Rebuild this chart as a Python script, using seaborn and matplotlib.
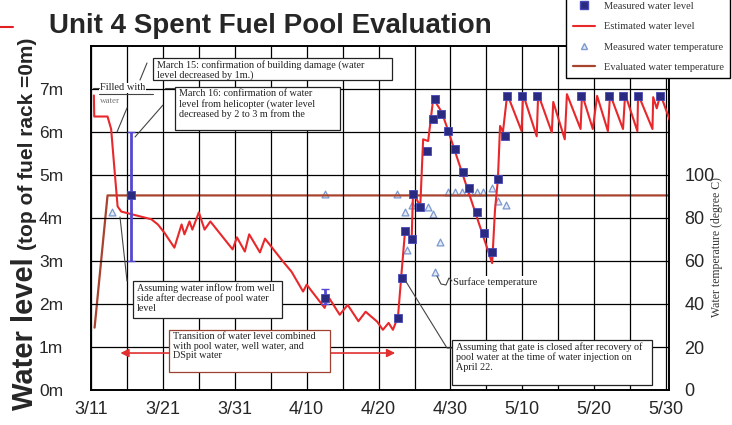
import seaborn as sns
import matplotlib.pyplot as plt
from matplotlib.lines import Line2D
from matplotlib.patches import Rectangle

W, H = 732, 425

# x positions are days counted from 3/11
tick_days = [0, 10, 20, 30, 40, 50, 60, 70, 80]
tick_labels = ["3/11", "3/21", "3/31", "4/10", "4/20", "4/30", "5/10", "5/20", "5/30"]
level_ticks = [0, 1, 2, 3, 4, 5, 6, 7]
level_labels = ["0m", "1m", "2m", "3m", "4m", "5m", "6m", "7m"]
temp_ticks = [0, 20, 40, 60, 80, 100]

# estimated water level (m)
est_days = [0.4, 0.45, 2.3, 2.8, 3.3, 3.7, 4.2, 8.4, 9.3, 10.2, 11.6, 12.6, 13.0, 13.7,
            14.1, 15.0, 15.8, 16.6, 19.7, 20.3, 21.4, 22.0, 23.5, 24.2, 26.7, 27.9,
            29.5, 30.0, 32.5, 33.0, 34.6, 35.7, 37.2, 38.2, 39.8, 40.6, 41.4, 42.0,
            42.7, 43.2, 43.7, 44.6, 44.8, 45.8, 46.2, 46.9, 47.6, 48.1, 48.8, 49.7,
            55.8, 56.2, 56.6, 56.9, 57.3, 57.9, 59.9, 60.1, 62.0, 62.2, 64.1, 64.3,
            65.9, 66.2, 68.1, 68.3, 69.8, 70.4, 71.9, 72.2, 74.0, 74.3, 76.0, 76.1,
            78.1, 78.2, 78.7, 79.2, 80.8]
est_level = [6.85, 6.36, 6.36, 6.07, 5.06, 4.27, 4.15, 3.97, 3.85, 3.66, 3.31, 3.85,
             3.62, 3.92, 3.73, 4.13, 3.73, 3.92, 3.27, 3.55, 3.22, 3.62, 3.20, 3.52,
             2.99, 2.75, 2.29, 2.45, 1.91, 2.17, 1.75, 1.98, 1.60, 1.82, 1.59, 1.40,
             1.56, 1.40, 1.70, 2.73, 3.73, 3.50, 4.60, 4.27, 5.83, 5.79, 6.77, 6.65,
             6.46, 6.02, 2.95, 4.20, 4.90, 6.14, 6.00, 6.88, 6.02, 6.88, 5.90, 6.88,
             5.99, 6.70, 5.83, 6.88, 6.07, 6.88, 6.07, 6.84, 6.02, 6.88, 6.07, 6.88,
             6.02, 6.88, 6.07, 6.81, 6.55, 6.88, 6.14]

# measured water level (m)
meas_days = [5.5, 32.5, 42.7, 43.3, 43.7, 44.6, 44.8, 45.8, 46.7, 47.6, 47.8, 48.7,
             49.7, 50.6, 51.7, 52.6, 53.7, 54.7, 55.8, 56.6, 57.6, 57.9, 60.0, 62.1,
             68.1, 72.0, 74.0, 76.1, 79.2]
meas_level = [4.53, 2.15, 1.68, 2.60, 3.70, 3.50, 4.55, 4.25, 5.55, 6.30, 6.77, 6.42,
              6.02, 5.60, 5.06, 4.69, 4.13, 3.66, 3.20, 4.90, 5.90, 6.84, 6.84, 6.84,
              6.84, 6.84, 6.84, 6.84, 6.84]
range_days = [5.5, 32.5]
range_mid = [4.5, 2.15]
range_low = [3.0, 2.0]
range_high = [6.0, 2.35]

# water temperature (degree C)
temp_days = [2.9, 32.5, 42.5, 43.7, 43.9, 44.6, 46.9, 47.6, 47.8, 48.5, 49.7, 50.6,
             51.6, 52.7, 53.7, 54.5, 55.8, 56.6, 57.7]
temp_vals = [83, 91, 91, 83, 65, 86, 85, 82, 55, 69, 92, 92, 92, 92, 92, 92, 94, 88, 86]
eval_days = [0.5, 2.3, 80.4]
eval_temp = [29, 90.5, 90.5]

RED = "#e8282b"
BROWN = "#a8432e"
NAVY = "#2a2a80"
TRI = "#7b98cf"

sns.set_style("white")
plt.rcParams["font.family"] = ["Liberation Sans", "DejaVu Sans"]

fig = plt.figure(figsize=(W / 100, H / 100), dpi=100)


def fx(x):
    return x / W


def fy(y):
    return 1 - y / H


ax = fig.add_axes([fx(91), fy(390), (669 - 91) / W, (390 - 46) / H])
ax2 = ax.twinx()
ax.set_zorder(ax2.get_zorder() + 1)
ax.patch.set_visible(False)

ax.set_xlim(0, 80.4)
ax.set_ylim(0, 8)
ax2.set_ylim(0, 160)

ax.set_xticks(tick_days)
ax.set_xticklabels(tick_labels)
ax.set_xticks([d + 5 for d in tick_days[:-1]], minor=True)
ax.set_yticks(level_ticks)
ax.set_yticklabels(level_labels)
ax.grid(True, which="major", color="black", lw=0.9)
ax.grid(True, which="minor", axis="x", color="black", lw=0.9)
ax.tick_params(axis="x", which="both", length=0, labelsize=13, pad=8)
ax.tick_params(axis="y", length=0, labelsize=12.5, pad=20)
ax2.set_yticks(temp_ticks)
ax2.tick_params(axis="y", length=0, labelsize=13, pad=11)
for a in (ax, ax2):
    for s in a.spines.values():
        s.set_color("black")
        s.set_linewidth(1.2)

# temperature (beneath)
sns.lineplot(x=eval_days, y=eval_temp, ax=ax2, color=BROWN, lw=1.6,
             sort=False, estimator=None)
sns.scatterplot(x=temp_days, y=temp_vals, ax=ax2, marker="^", s=24,
                facecolor="#e4ebf7", edgecolor=TRI, linewidth=0.9)

# water level
ax.annotate("", xy=(3.7, 0.86), xytext=(42.7, 0.86),
            arrowprops=dict(arrowstyle="<|-|>", color="#e03030", lw=1.2,
                            mutation_scale=12))
sns.lineplot(x=est_days, y=est_level, ax=ax, color=RED, lw=1.5,
             sort=False, estimator=None, zorder=4)
ax.errorbar(range_days, range_mid,
            yerr=[[m - lo for m, lo in zip(range_mid, range_low)],
                  [hi - m for m, hi in zip(range_mid, range_high)]],
            fmt="none", ecolor="#5548d0", elinewidth=2, capsize=3, zorder=5)
sns.scatterplot(x=meas_days, y=meas_level, ax=ax, marker="s", s=40,
                color=NAVY, edgecolor="#4848b8", linewidth=0.6, zorder=6)
ax.set_xlabel("")
ax.set_ylabel("")
ax2.set_ylabel("")

# title and axis titles
fig.text(fx(49), fy(33), "Unit 4 Spent Fuel Pool Evaluation", fontsize=20,
         fontweight="bold", ha="left", va="baseline")
fig.add_artist(Line2D([0, fx(13)], [fy(27), fy(27)], color="#e02020", lw=1.5))
fig.text(fx(33), fy(410), "Water level", rotation=90, rotation_mode="anchor",
         ha="left", va="baseline", fontsize=21, fontweight="bold")
fig.text(fx(33), fy(250), "(top of fuel rack =0m)", rotation=90,
         rotation_mode="anchor", ha="left", va="baseline", fontsize=15,
         fontweight="bold")
fig.text(fx(717), fy(247), "Water temperature (degree C)", rotation=90,
         ha="center", va="center", family="Liberation Serif", fontsize=8.5,
         color="#333333")

SERIF = "Liberation Serif"


def note(x0, y0, x1, y1, text, ec="#222222"):
    fig.add_artist(Rectangle((fx(x0), fy(y1)), (x1 - x0) / W, (y1 - y0) / H,
                             transform=fig.transFigure, fc="white", ec=ec,
                             lw=0.9, zorder=5))
    fig.text(fx(x0 + 4), fy(y0 + 2), text, ha="left", va="top", fontsize=7.3,
             family=SERIF, linespacing=1.1, color="#222222", zorder=6)


def lead(pts, color="#444444"):
    fig.add_artist(Line2D([fx(p[0]) for p in pts], [fy(p[1]) for p in pts],
                          color=color, lw=0.8, zorder=4))


note(153, 58, 392, 80,
     "March 15: confirmation of building damage (water\nlevel decreased by 1m.)")
note(175, 87, 340, 130,
     "March 16: confirmation of water\nlevel from helicopter (water level\n"
     "decreased by 2 to 3 m from the")
note(133, 281, 282, 318,
     "Assuming water inflow from well\nside after decrease of pool water\nlevel")
note(169, 330, 330, 372,
     "Transition of water level combined\nwith pool water, well water, and\nDSpit water",
     ec="#a04030")
note(452, 340, 652, 385,
     "Assuming that gate is closed after recovery of\n"
     "pool water at the time of water injection on\nApril 22.")

fig.text(fx(100), fy(88), "Filled with", ha="left", va="center", fontsize=7.5,
         family=SERIF, color="#222222",
         bbox=dict(fc="white", ec="none", pad=0.5))
fig.text(fx(100), fy(101), "water", ha="left", va="center", fontsize=6.5,
         family=SERIF, color="#777777")
lead([(93, 88), (99, 88)])
lead([(99, 94), (153, 94)])
fig.text(fx(453), fy(282), "Surface temperature", ha="left", va="center",
         fontsize=7.5, family=SERIF, color="#222222",
         bbox=dict(fc="white", ec="none", pad=0.5))

lead([(147, 63), (140, 80)])
lead([(127, 108), (117, 132)])
lead([(165, 88), (175, 88)])
lead([(163, 105), (135, 137)])
lead([(120, 217), (127, 281)])
lead([(405, 280), (447, 348), (452, 348)])
lead([(437, 276), (441, 284), (446, 285), (449, 278), (452, 281)])

handles = [
    Line2D([], [], marker="s", ls="none", color=NAVY, mec="#4848b8", ms=6,
           label="Measured water level"),
    Line2D([], [], color=RED, lw=1.5, label="Estimated water level"),
    Line2D([], [], marker="^", ls="none", mfc="#e4ebf7", mec=TRI, ms=5,
           label="Measured water temperature"),
    Line2D([], [], color=BROWN, lw=1.6, label="Evaluated water temperature"),
]
leg = fig.legend(handles=handles, loc="lower right",
                 bbox_to_anchor=(fx(730), fy(78)), frameon=True, fancybox=False,
                 edgecolor="black", framealpha=1,
                 prop={"family": SERIF, "size": 7.5}, labelspacing=1.05,
                 handlelength=2.2, borderpad=0.6, borderaxespad=0)
leg.get_frame().set_linewidth(1.0)
for t in leg.get_texts():
    t.set_color("#333333")

fig.savefig("out.png", dpi=100)
